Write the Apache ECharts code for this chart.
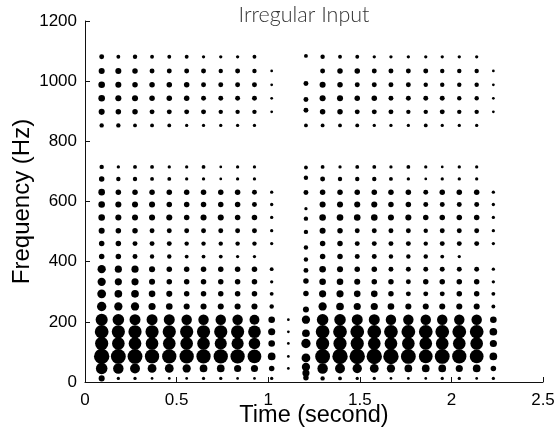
<!DOCTYPE html>
<html>
<head>
<meta charset="utf-8">
<script src="https://cdn.jsdelivr.net/npm/echarts@6/dist/echarts.min.js"></script>
<style>
  html, body { margin: 0; padding: 0; background: #fff; }
  #chart { width: 558px; height: 432px; }
</style>
</head>
<body>
<div id="chart"></div>
<script>
// Analysis frame times in seconds (regular frames)
const frameTimes = [0.091, 0.182, 0.273, 0.366, 0.460, 0.555, 0.647, 0.741, 0.833, 0.925, 1.019,
                    1.110,
                    1.297, 1.392, 1.486, 1.579, 1.670, 1.765, 1.860, 1.950, 2.043, 2.138, 2.229];

// Partial frequencies in Hz (one row of magnitudes each)
const partialFreqs = [1081, 1034, 988, 943, 898, 853,
                      715, 675, 631, 590, 547, 503, 460, 417, 375, 333, 293, 251, 207, 167, 128, 85, 45, 12];

// Magnitude of each partial in each frame (0 = not detected)
const mag1081 = [4.5,3.5,4,3.5,3.5,3.5,3,3,3,3.5,0, 0, 4,3.5,3.5,3,3,3,3,3,3,3,0];
const mag1034 = [5.5,5.5,5,4.5,4.5,4.5,4.5,4,4.5,4,2.5, 0, 4.5,5,5,4.5,4.5,4.5,4.5,4,4,4,2.5];
const mag988  = [6,5.5,5,5,5,5,4.5,4.5,4.5,4.5,2.5, 0, 5.5,5,4.5,4.5,4.5,4.5,4,4,4,4,2.5];
const mag943  = [6,5.5,5.5,5,5,5,4.5,4.5,4.5,4.5,2.5, 0, 5.5,5.5,5,5,4.5,4.5,4.5,4.5,4,4,2.5];
const mag898  = [5.5,5,5,4.5,4.5,4.5,4.5,4,4,4,2.5, 0, 5,5,4.5,4.5,4.5,4,4,4.5,4,4,2.5];
const mag853  = [4,4,3.5,3.5,3.5,3,3,3,3,3,0, 0, 3.5,3.5,3.5,3,3,3,3.5,3,3,3,0];
const mag715  = [4,3,3.5,3.5,3,3,3.5,2.5,3,3,0, 0, 3.5,3,3.5,3.5,3,3.5,3,2.5,3,3,0];
const mag675  = [5,4,4,3.5,3.5,3,3,2.5,3,3,0, 0, 4.5,4,4,4,3.5,3,2.5,3,3,3,0];
const mag631  = [6,5,5,5,5,5,5,5,5,4.5,3, 0, 5,5,5,5,5,5,4.5,5,5,5,3];
const mag590  = [6,5.5,5.5,5.5,5,5,5,5,5,4.5,3, 0, 5.5,5.5,5.5,5.5,5,5,4.5,4.5,4.5,4.5,3];
const mag547  = [6,5.5,5.5,5.5,5.5,5,5.5,5.5,5,5,3, 0, 6,6,6,6,5.5,5.5,5,5,5,5,3];
const mag503  = [5.5,5,5,4.5,4.5,4.5,4.5,4.5,4.5,4.5,3, 0, 5.5,5,4.5,4.5,4.5,4.5,4,4.5,4.5,4.5,3];
const mag460  = [5,5,4.5,4.5,4.5,4,4,4,4,4,3, 0, 5,5,4.5,4.5,4.5,4.5,4,4.5,4.5,4.5,3];
const mag417  = [5,5,4.5,4,4,3.5,3.5,3.5,3,3,0, 0, 5,5,4.5,4.5,4,4,4,3.5,3,0,0];
const mag375  = [7.5,6.5,6.5,5.5,5,5,5,5,5,5,3.5, 0, 6,5.5,5,5,4.5,4.5,4.5,4.5,4.5,4.5,3];
const mag333  = [7.5,6.5,6.5,5.5,5,5,5,5,5,5,3, 0, 6,6,5.5,5,5,4.5,5,5,5,5,3];
const mag293  = [8,7,7,6,5.5,5,5,5,5,5,3.5, 0, 6.5,6.5,6,6,5,4.5,4.5,4.5,5,5,3.5];
const mag251  = [8.5,7.5,7.5,6.5,6,5.5,5.5,5.5,5.5,5.5,4, 0, 7.5,7,6.5,6.5,6,5.5,5.5,5.5,5.5,5.5,3.5];
const mag207  = [11,10.5,10,10,10,9.5,9.5,9.5,9.5,9,6, 2.5, 10.5,10.5,10,10,9.5,9.5,9.5,9.5,9.5,9.5,6];
const mag167  = [12.5,12,12,12,12,12,12,12,12,11.5,6.5, 2.5, 12.5,12.5,12.5,12.5,12.5,12.5,12.5,12.5,12.5,12.5,7];
const mag128  = [12,11.5,11.5,11.5,11.5,11.5,11.5,11,11,10.5,6, 2.5, 12,12,12,11.5,11.5,11.5,11.5,11.5,11.5,11.5,6.5];
const mag85   = [14,13.5,13.5,13,13,13,13,13,13,12.5,7, 2.5, 13.5,14,14,14,14,13.5,12.5,13.5,13,12.5,7];
const mag45   = [10.5,9.5,9,8,8,7.5,7,7,6.5,6.5,5, 2.5, 9.5,9,8.5,8,7.5,7,7,7,6.5,7,5];
const mag12   = [5.5,3,3,2.5,2.5,2.5,3,3,2.5,2.5,3, 0, 4,3.5,3,3,2.5,2.5,2.5,3,3,2.5,3];

const magnitudes = [mag1081, mag1034, mag988, mag943, mag898, mag853,
                    mag715, mag675, mag631, mag590, mag547, mag503, mag460, mag417,
                    mag375, mag333, mag293, mag251, mag207, mag167, mag128, mag85, mag45, mag12];

// Frame right after the gap, where the partials drift off their usual frequencies
const driftTime  = 1.206;
const driftFreqs = [1084, 992, 939, 903, 853,
                    713, 679, 630, 576, 543, 499, 447, 407, 371, 336, 294, 241,
                    207, 162, 128, 80, 50, 30, 14];
const driftMags  = [3.5, 4.5, 4.5, 4.5, 3.5,
                    3.5, 4, 4.5, 3, 4, 4, 4, 4, 4.5, 5, 5, 5.5,
                    7.5, 7, 8.5, 8, 7.5, 6.5, 5];

// Tick values
const timeTicks = [0, 0.5, 1, 1.5, 2, 2.5];
const freqTicks = [0, 200, 400, 600, 800, 1000, 1200];

const points = [];
partialFreqs.forEach(function (f, r) {
  frameTimes.forEach(function (t, c) {
    const m = magnitudes[r][c];
    if (m > 0) points.push([t, f, m]);
  });
});
driftFreqs.forEach(function (f, i) {
  points.push([driftTime, f, driftMags[i]]);
});

// Dot diameter in pixels per unit of magnitude
const DOT_SCALE = 1.1;
const axisFont = 'Liberation Sans, Arial, Helvetica, sans-serif';

const chart = echarts.init(document.getElementById('chart'), null, { renderer: 'canvas' });
chart.setOption({
  animation: false,
  backgroundColor: '#ffffff',
  title: {
    text: 'Irregular Input',
    left: 299,
    top: -1,
    textAlign: 'center',
    textStyle: { fontFamily: 'Lato', fontWeight: 300, fontSize: 21.5, color: '#333' }
  },
  grid: { left: 85, right: 15, top: 21, bottom: 50, containLabel: false, outerBoundsMode: 'none' },
  xAxis: {
    type: 'value',
    min: timeTicks[0],
    max: timeTicks[timeTicks.length - 1],
    interval: 0.5,
    name: 'Time (second)',
    nameLocation: 'middle',
    nameGap: 22,
    nameMoveOverlap: false,
    nameTextStyle: { fontFamily: axisFont, fontSize: 23.5, color: '#000' },
    axisLine: { show: true, onZero: false, lineStyle: { color: '#111', width: 1 } },
    axisTick: { show: true, inside: true, length: 5, lineStyle: { color: '#111' } },
    axisLabel: { fontFamily: axisFont, fontSize: 17, color: '#000', margin: 10,
                 formatter: function (v) { return String(v); } },
    splitLine: { show: false }
  },
  yAxis: {
    type: 'value',
    min: freqTicks[0],
    max: freqTicks[freqTicks.length - 1],
    interval: 200,
    name: 'Frequency (Hz)',
    nameLocation: 'middle',
    nameGap: 51,
    nameMoveOverlap: false,
    nameTextStyle: { fontFamily: axisFont, fontSize: 24, color: '#000' },
    axisLine: { show: true, onZero: false, lineStyle: { color: '#111', width: 1 } },
    axisTick: { show: true, inside: true, length: 5, lineStyle: { color: '#111' } },
    axisLabel: { fontFamily: axisFont, fontSize: 17, color: '#000', margin: 8,
                 formatter: function (v) { return String(v); } },
    splitLine: { show: false }
  },
  series: [{
    type: 'scatter',
    data: points,
    symbol: 'circle',
    symbolSize: function (v) { return v[2] * DOT_SCALE; },
    itemStyle: { color: '#000', opacity: 1 },
    silent: true,
    clip: false
  }]
});
</script>
</body>
</html>
